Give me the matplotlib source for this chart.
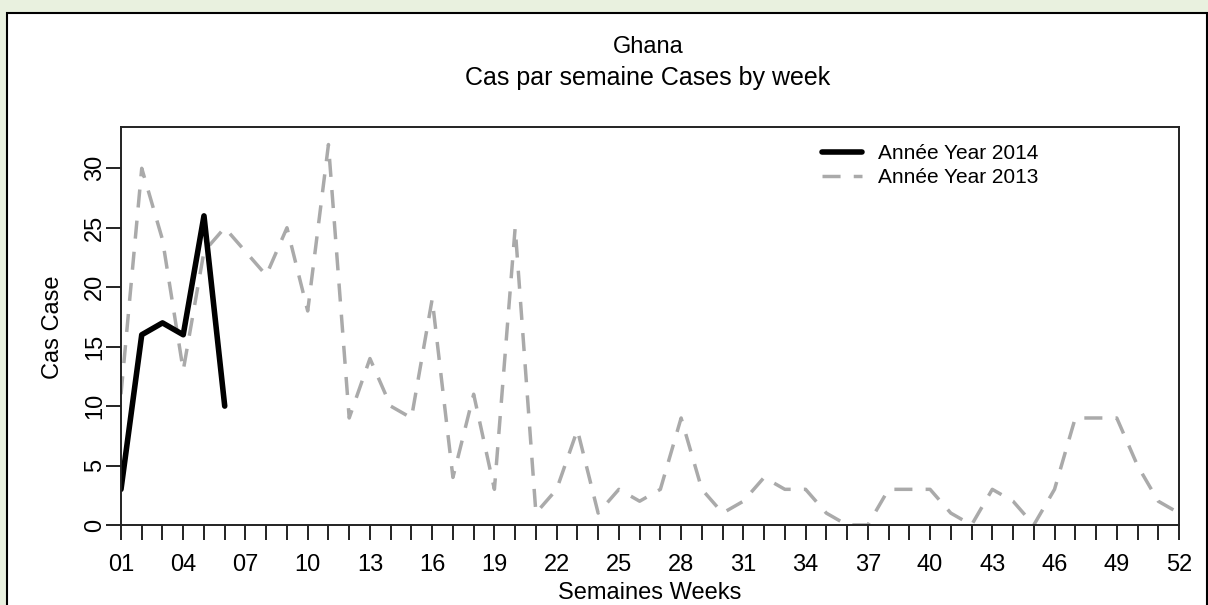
import matplotlib.pyplot as plt
from matplotlib.patches import Rectangle

plt.rcParams['font.family'] = ['Liberation Sans', 'DejaVu Sans']

# semaines / weeks
weeks = list(range(1, 53))
cases_2013 = [11, 30, 24, 13, 23, 25, 23, 21, 25, 18, 32, 9, 14, 10, 9, 19, 4, 11, 3, 25,
              1, 3, 8, 1, 3, 2, 3, 9, 3, 1, 2, 4, 3, 3, 1, 0, 0, 3, 3, 3,
              1, 0, 3, 2, 0, 3, 9, 9, 9, 5, 2, 1]
weeks_2014 = [1, 2, 3, 4, 5, 6]
cases_2014 = [3, 16, 17, 16, 26, 10]
label_weeks = list(range(1, 53, 3))
y_ticks = [0, 5, 10, 15, 20, 25, 30]

W, H = 1208, 605
fig = plt.figure(figsize=(W / 100, H / 100), dpi=100, facecolor='#e9f1df')

# white panel with black frame
fig.add_artist(Rectangle((7 / W, -0.05), 1200 / W, 1.05 - 13 / H, transform=fig.transFigure,
                         facecolor='white', edgecolor='black', lw=1.5, zorder=-5))

ax = fig.add_axes([121 / W, 1 - 525 / H, 1058 / W, 398 / H])
l13, = ax.plot(weeks, cases_2013, color='#aaaaaa', lw=2.5, linestyle=(0, (5.2, 3.8)),
               dash_capstyle='butt', label='Année Year 2013')
l14, = ax.plot(weeks_2014, cases_2014, color='black', lw=4, solid_joinstyle='round',
               solid_capstyle='round', label='Année Year 2014')

ax.set_xlim(1, 52)
ax.set_ylim(0, 398 / 11.89)
ax.set_xticks(weeks, labels=['%02d' % w if w in label_weeks else '' for w in weeks])
ax.set_yticks(y_ticks)
ax.tick_params(length=10.8, width=1.4, labelsize=17, direction='out', color='#222222')
ax.tick_params(axis='x', pad=10)
ax.tick_params(axis='y', labelrotation=90, pad=0)
for lbl in ax.get_yticklabels():
    lbl.set_va('center')
for s in ax.spines.values():
    s.set_linewidth(1.4)
    s.set_color('#222222')

ax.legend(handles=[l14, l13], loc='upper left', bbox_to_anchor=(0.6626, 0.957),
          frameon=False, fontsize=15, handlelength=1.92, handletextpad=0.77,
          labelspacing=0.25, borderpad=0, borderaxespad=0)

fig.text(648 / W, 1 - 47 / H, 'Ghana', ha='center', va='center', fontsize=17)
fig.text(648 / W, 1 - 78 / H, 'Cas par semaine Cases by week', ha='center', va='center', fontsize=18)
fig.text(650 / W, 1 - 593 / H, 'Semaines Weeks', ha='center', va='center', fontsize=17)
fig.text(53 / W, 1 - 327 / H, 'Cas Case', rotation=90, ha='center', va='center', fontsize=17)

fig.savefig('out.png', dpi=100, facecolor=fig.get_facecolor())
